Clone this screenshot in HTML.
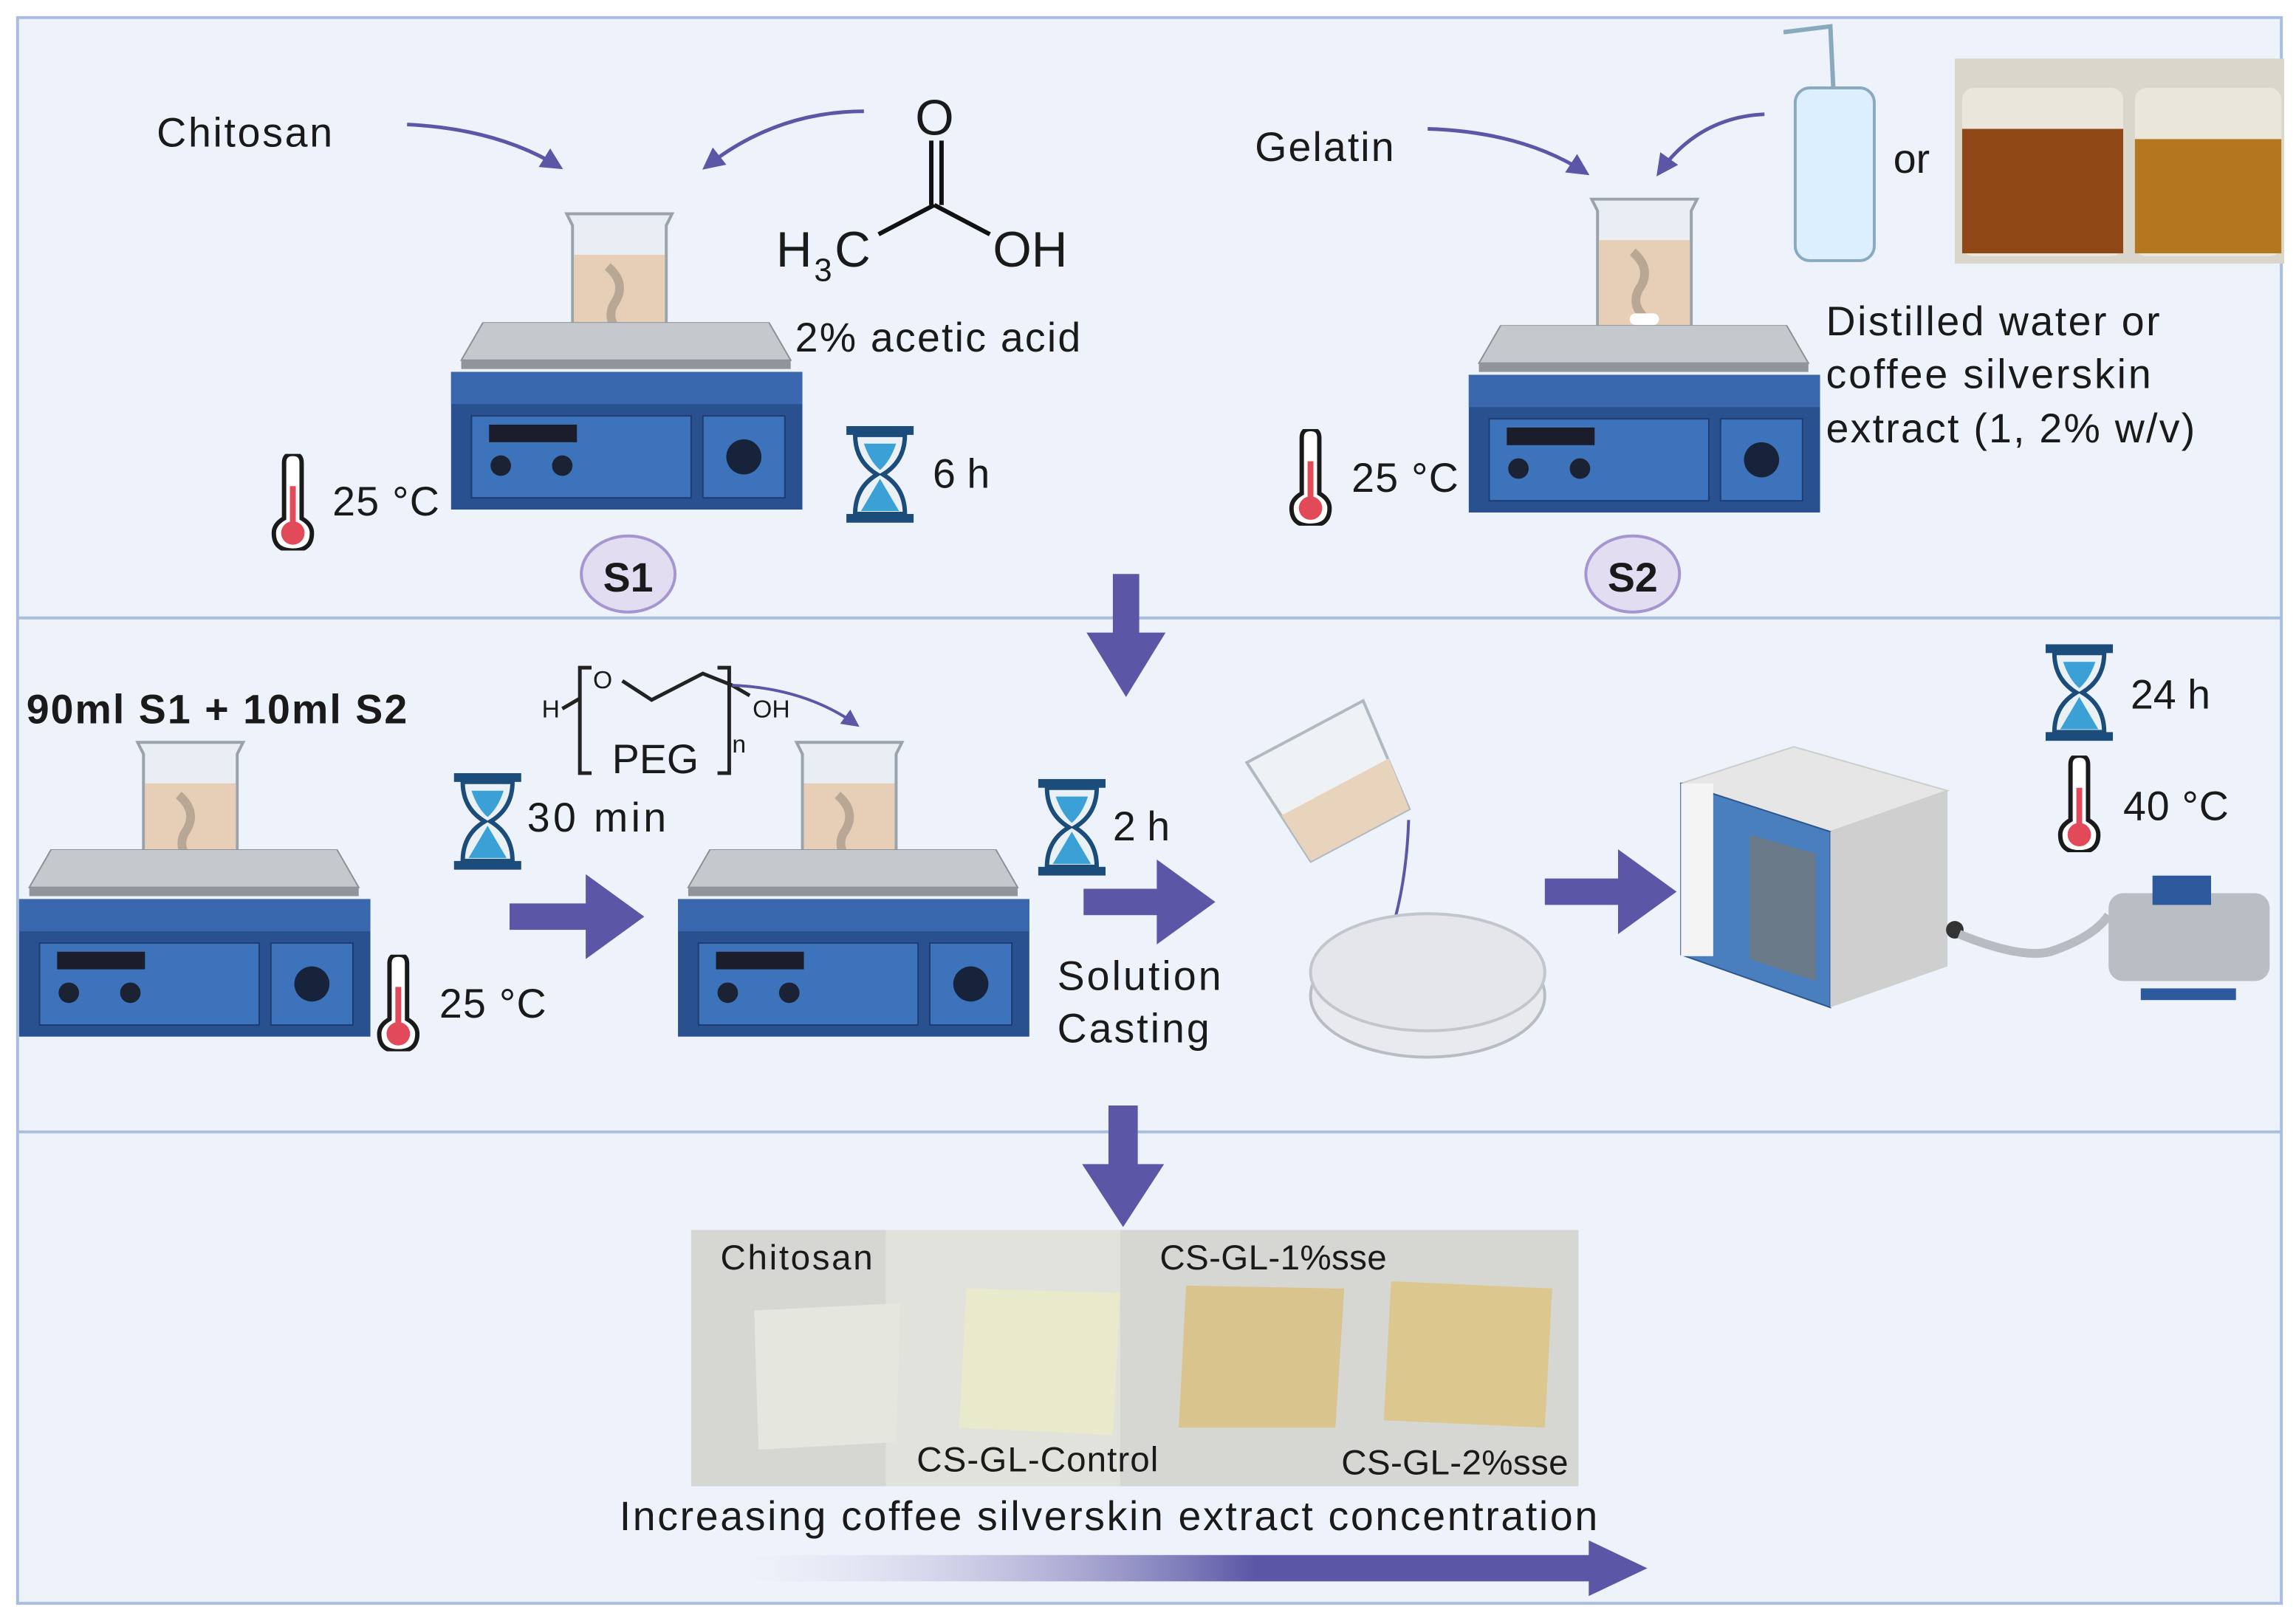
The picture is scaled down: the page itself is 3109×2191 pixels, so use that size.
<!DOCTYPE html>
<html><head><meta charset="utf-8"><style>
html,body{margin:0;padding:0;background:#fff;}
svg{display:block;}
text{font-family:"Liberation Sans",sans-serif;fill:#1a1a1a;}
</style></head><body>
<svg width="3109" height="2191" viewBox="0 0 1568 1105" xmlns="http://www.w3.org/2000/svg">
<defs>
<linearGradient id="gr" x1="0" x2="1"><stop offset="0" stop-color="#ffffff" stop-opacity="0"/><stop offset="0.6" stop-color="#5b57a6"/><stop offset="1" stop-color="#5b57a6"/></linearGradient>
<symbol id="stir" viewBox="0 0 240 128" width="240" height="128">
<polygon points="22,0 217,0 232,26 7,26" fill="#c5c9cd" stroke="#8c9196"/>
<rect x="7" y="26" width="225" height="6" fill="#8f959b"/>
<rect x="0" y="34" width="240" height="94" fill="#2a518f"/>
<rect x="0" y="34" width="240" height="22" fill="#3a68ae"/>
<rect x="14" y="64" width="150" height="56" fill="#3d73bb" stroke="#1d3c70"/>
<rect x="26" y="70" width="60" height="12" fill="#1b1d2b"/>
<circle cx="34" cy="98" r="7" fill="#1b2233"/><circle cx="76" cy="98" r="7" fill="#1b2233"/>
<rect x="172" y="64" width="56" height="56" fill="#3d73bb" stroke="#1d3c70"/>
<circle cx="200" cy="92" r="12" fill="#17233a"/>
</symbol>
<symbol id="beak" viewBox="0 0 80 100" width="80" height="100">
<path d="M4,4 L76,4 L72,12 L72,96 L8,96 L8,12 Z" fill="#e8eef3" stroke="#9aa3ab" stroke-width="2"/>
<rect x="9" y="32" width="62" height="63" fill="#e6cfb6"/>
<path d="M32,40 Q46,52 36,66 Q30,78 44,88" stroke="#b9a796" stroke-width="6" fill="none"/>
<rect x="30" y="82" width="20" height="8" rx="4" fill="#fff"/>
</symbol>
<symbol id="hg" viewBox="0 0 46 66" width="46" height="66">
<rect x="0" y="0" width="46" height="6" fill="#1c4c7a"/><rect x="0" y="60" width="46" height="6" fill="#1c4c7a"/>
<path d="M6,6 L40,6 Q40,24 25,33 Q40,42 40,60 L6,60 Q6,42 21,33 Q6,24 6,6 Z" fill="#e9f1f7" stroke="#1c4c7a" stroke-width="3"/>
<path d="M12,12 L34,12 Q30,24 23,30 Q16,24 12,12Z" fill="#3aa0d6"/>
<path d="M23,36 L36,58 L10,58 Z" fill="#3aa0d6"/>
</symbol>
<symbol id="th" viewBox="0 0 30 66" width="30" height="66">
<path d="M9,6 Q9,0 15,0 Q21,0 21,6 L21,44 Q28,48 28,54 Q28,66 15,66 Q2,66 2,54 Q2,48 9,44 Z" fill="#fff" stroke="#1a1a1a" stroke-width="3"/>
<rect x="13" y="22" width="4" height="28" fill="#e24a5a"/><circle cx="15" cy="54" r="8" fill="#e24a5a"/>
</symbol>
<marker id="ah" viewBox="0 0 10 10" refX="8" refY="5" markerWidth="6" markerHeight="6" orient="auto"><path d="M0,0 L10,5 L0,10Z" fill="#5b57a6"/></marker>
</defs>
<rect x="0" y="0" width="1568" height="1105" fill="#fff"/>
<rect x="12" y="12" width="1546" height="1083" fill="#eef3fb" stroke="#a9bde0" stroke-width="2"/>
<line x1="12" y1="422" x2="1558" y2="422" stroke="#a9bde0" stroke-width="2"/>
<line x1="12" y1="773" x2="1558" y2="773" stroke="#a9bde0" stroke-width="2"/>

<!-- Section 1 -->
<text x="107" y="100" font-size="28" textLength="120">Chitosan</text>
<path d="M278,85 Q340,88 382,114" stroke="#5b57a6" stroke-width="2.5" fill="none" marker-end="url(#ah)"/>
<path d="M590,76 Q530,76 482,114" stroke="#5b57a6" stroke-width="2.5" fill="none" marker-end="url(#ah)"/>
<use href="#beak" x="383" y="142" width="80" height="100"/>
<use href="#stir" x="308" y="220"/>
<text x="625" y="92" font-size="34">O</text>
<line x1="636" y1="96" x2="636" y2="140" stroke="#111" stroke-width="3"/><line x1="643" y1="96" x2="643" y2="140" stroke="#111" stroke-width="3"/>
<line x1="600" y1="160" x2="638" y2="140" stroke="#111" stroke-width="3"/><line x1="638" y1="140" x2="676" y2="160" stroke="#111" stroke-width="3"/>
<text x="530" y="182" font-size="34">H</text><text x="556" y="192" font-size="22">3</text><text x="570" y="182" font-size="34">C</text>
<text x="678" y="182" font-size="34">OH</text>
<text x="543" y="240" font-size="28" textLength="195">2% acetic acid</text>
<use href="#th" x="185" y="310"/><text x="227" y="352" font-size="28" textLength="73">25 °C</text>
<use href="#hg" x="578" y="291"/><text x="637" y="333" font-size="28">6 h</text>
<ellipse cx="429" cy="392" rx="32" ry="26" fill="#e3ddf2" stroke="#a596d0" stroke-width="2"/>
<text x="429" y="404" font-size="28" font-weight="bold" text-anchor="middle">S1</text>

<text x="857" y="110" font-size="28" textLength="95">Gelatin</text>
<path d="M975,88 Q1040,90 1083,118" stroke="#5b57a6" stroke-width="2.5" fill="none" marker-end="url(#ah)"/>
<path d="M1205,78 Q1160,80 1133,118" stroke="#5b57a6" stroke-width="2.5" fill="none" marker-end="url(#ah)"/>
<use href="#beak" x="1083" y="132" width="80" height="100"/>
<use href="#stir" x="1003" y="222"/>
<path d="M1218,22 L1250,18 L1252,60" stroke="#8ab" stroke-width="3" fill="none"/>
<rect x="1226" y="60" width="54" height="118" rx="10" fill="#dcefff" stroke="#8aaac0" stroke-width="2"/>
<text x="1293" y="118" font-size="28">or</text>
<rect x="1335" y="40" width="225" height="140" fill="#d9d6cc"/>
<rect x="1340" y="60" width="110" height="115" rx="8" fill="#eae6dc"/>
<rect x="1340" y="88" width="110" height="85" fill="#8f4716"/>
<rect x="1458" y="60" width="100" height="115" rx="8" fill="#eae6dc"/>
<rect x="1458" y="95" width="100" height="78" fill="#b3781f"/>
<text x="1247" y="229" font-size="28" textLength="228">Distilled water or</text>
<text x="1247" y="265" font-size="28" textLength="222">coffee silverskin</text>
<text x="1247" y="302" font-size="28" textLength="252">extract (1, 2% w/v)</text>
<use href="#th" x="880" y="293"/><text x="923" y="336" font-size="28" textLength="73">25 °C</text>
<ellipse cx="1115" cy="392" rx="32" ry="26" fill="#e3ddf2" stroke="#a596d0" stroke-width="2"/>
<text x="1115" y="404" font-size="28" font-weight="bold" text-anchor="middle">S2</text>

<polygon points="760,392 778,392 778,432 796,432 769,476 742,432 760,432" fill="#5b57a6"/>

<!-- Section 2 -->
<text x="18" y="494" font-size="28" font-weight="bold" textLength="260">90ml S1 + 10ml S2</text>
<use href="#beak" x="90" y="503" width="80" height="100"/>
<use href="#stir" x="13" y="580"/>
<use href="#th" x="257" y="652"/><text x="300" y="695" font-size="28" textLength="73">25 °C</text>
<use href="#hg" x="310" y="528"/><text x="360" y="568" font-size="28" textLength="95">30 min</text>
<polygon points="348,617 400,617 400,597 440,626 400,655 400,635 348,635" fill="#5b57a6"/>
<text x="370" y="490" font-size="17">H</text>
<path d="M384,484 L396,477 M404,456 L396,456 L396,528 L404,528" stroke="#222" stroke-width="2.5" fill="none"/>
<text x="405" y="470" font-size="17">O</text>
<path d="M425,465 L445,478 L480,460 L500,468" stroke="#222" stroke-width="2.5" fill="none"/>
<path d="M490,456 L498,456 L498,528 L490,528 M500,468 L512,475" stroke="#222" stroke-width="2.5" fill="none"/>
<text x="514" y="490" font-size="17">OH</text><text x="500" y="514" font-size="17">n</text>
<text x="418" y="528" font-size="28">PEG</text>
<path d="M500,468 Q550,470 585,495" stroke="#5b57a6" stroke-width="2" fill="none" marker-end="url(#ah)"/>
<use href="#beak" x="540" y="503" width="80" height="100"/>
<use href="#stir" x="463" y="580"/>
<use href="#hg" x="709" y="532"/><text x="760" y="574" font-size="28">2 h</text>
<polygon points="740,607 790,607 790,587 830,616 790,645 790,625 740,625" fill="#5b57a6"/>
<text x="722" y="676" font-size="28" textLength="112">Solution</text>
<text x="722" y="712" font-size="28" textLength="104">Casting</text>
<g transform="rotate(-28 910 535)"><path d="M865,495 L955,495 L948,575 L872,575 Z" fill="#eef2f5" stroke="#b0b8c0" stroke-width="2"/><path d="M869,538 L952,538 L948,575 L872,575Z" fill="#e8d3bd"/></g>
<path d="M962,560 Q960,620 940,663" stroke="#5b57a6" stroke-width="2" fill="none" marker-end="url(#ah)"/>
<ellipse cx="975" cy="680" rx="80" ry="42" fill="#e8eaee" stroke="#b8bcc2" stroke-width="2"/>
<ellipse cx="975" cy="664" rx="80" ry="40" fill="#e4e6ea" stroke="#c2c6cc" stroke-width="2"/>
<polygon points="1055,600 1105,600 1105,580 1145,609 1105,638 1105,618 1055,618" fill="#5b57a6"/>
<polygon points="1148,535 1225,510 1330,540 1250,568" fill="#e6e6e6" stroke="#ccc"/>
<polygon points="1148,535 1250,568 1250,688 1148,652" fill="#4a7fbf" stroke="#2c5690"/>
<rect x="1148" y="535" width="22" height="118" fill="#f4f4f4"/>
<polygon points="1195,570 1240,583 1240,670 1195,655" fill="#6a7a88"/>
<polygon points="1250,568 1330,540 1330,660 1250,688" fill="#cfcfcf"/>
<circle cx="1335" cy="635" r="6" fill="#333"/>
<path d="M1338,638 Q1380,655 1400,650 Q1430,640 1440,625" stroke="#b7bcc2" stroke-width="6" fill="none"/>
<rect x="1440" y="610" width="110" height="60" rx="10" fill="#b9bec4"/>
<rect x="1470" y="598" width="40" height="20" fill="#2c5a9c"/>
<rect x="1462" y="675" width="65" height="8" fill="#2c5a9c"/>
<use href="#hg" x="1397" y="440"/><text x="1455" y="484" font-size="28">24 h</text>
<use href="#th" x="1405" y="516"/><text x="1450" y="560" font-size="28" textLength="72">40 °C</text>

<!-- Section 3 -->
<polygon points="757,755 777,755 777,795 795,795 767,838 739,795 757,795" fill="#5b57a6"/>
<rect x="472" y="840" width="606" height="175" fill="#d6d6d2"/>
<rect x="605" y="840" width="160" height="175" fill="#e2e2dc"/>
<polygon points="515,895 615,890 612,985 518,990" fill="#e5e6de"/>
<polygon points="660,880 765,883 760,980 655,975" fill="#e9e9cc"/>
<polygon points="810,878 918,880 912,975 805,975" fill="#d9c48e"/>
<polygon points="950,875 1060,880 1055,975 945,970" fill="#dcc88f"/>
<text x="492" y="867" font-size="24" textLength="104">Chitosan</text>
<text x="792" y="867" font-size="24" textLength="155">CS-GL-1%sse</text>
<text x="626" y="1005" font-size="24" textLength="165">CS-GL-Control</text>
<text x="916" y="1007" font-size="24" textLength="155">CS-GL-2%sse</text>
<text x="423" y="1045" font-size="28" textLength="668">Increasing coffee silverskin extract concentration</text>
<polygon points="455,1062 1085,1062 1085,1052 1125,1071 1085,1090 1085,1080 455,1080" fill="url(#gr)"/>
</svg>
</body></html>
